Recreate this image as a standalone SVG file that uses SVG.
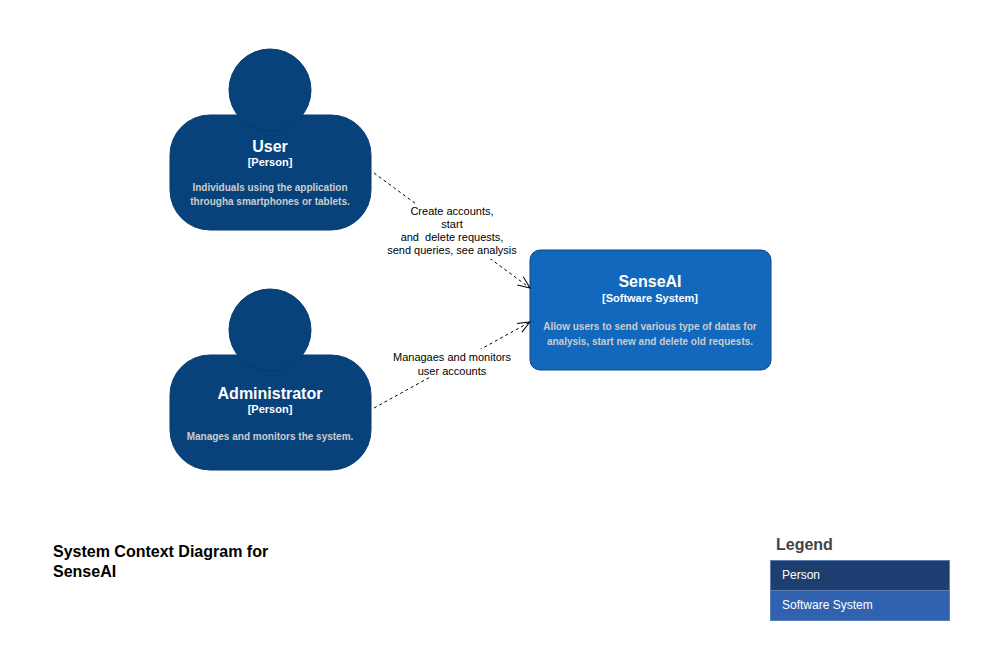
<svg xmlns="http://www.w3.org/2000/svg" width="1000" height="671" viewBox="0 0 1000 671">
<style>
.person{fill:#08427b;stroke:#073b6f;stroke-width:1}
.sys{fill:#1168bd;stroke:#0b4884;stroke-width:1}
.name{font-family:"Liberation Sans",Arial,sans-serif;font-weight:bold;font-size:16px;fill:#fff;text-anchor:middle}
.type{font-family:"Liberation Sans",Arial,sans-serif;font-weight:bold;font-size:11px;fill:#fff;text-anchor:middle}
.desc{font-family:"Liberation Sans",Arial,sans-serif;font-weight:bold;font-size:10px;fill:#cccccc;text-anchor:middle}
.edge{fill:none;stroke:#000;stroke-width:1;stroke-dasharray:3 3}
.lbl{font-family:"Liberation Sans",Arial,sans-serif;font-size:11px;fill:#000;text-anchor:middle}
.title{font-family:"Liberation Sans",Arial,sans-serif;font-weight:bold;font-size:16px;fill:#000}
.leg{font-family:"Liberation Sans",Arial,sans-serif;font-size:12px;fill:#fff}
</style>
<defs>
<marker id="arr" markerWidth="14" markerHeight="12" refX="13" refY="6" orient="auto" markerUnits="userSpaceOnUse">
<path d="M1,1 L13,6 L1,11" fill="none" stroke="#000" stroke-width="1"/>
</marker>
</defs>
<rect width="1000" height="671" fill="#fff"/>
<g id="user">
<rect class="person" x="170" y="115" width="201" height="115" rx="40" ry="40"/>
<circle class="person" cx="270" cy="90" r="41"/>
<text class="name" x="270" y="152">User</text>
<text class="type" x="270" y="166">[Person]</text>
<text class="desc" x="270" y="191">Individuals using the application</text>
<text class="desc" x="270" y="205">througha smartphones or tablets.</text>
</g>
<g id="administrator">
<rect class="person" x="170" y="355" width="201" height="115" rx="40" ry="40"/>
<circle class="person" cx="270" cy="330" r="41"/>
<text class="name" x="270" y="399">Administrator</text>
<text class="type" x="270" y="413">[Person]</text>
<text class="desc" x="270" y="440">Manages and monitors the system.</text>
</g>
<g id="senseai">
<rect class="sys" x="530" y="250" width="241" height="120" rx="10" ry="10"/>
<text class="name" x="650" y="287">SenseAI</text>
<text class="type" x="650" y="302">[Software System]</text>
<text class="desc" x="650" y="330">Allow users to send various type of datas for</text>
<text class="desc" x="650" y="345">analysis, start new and delete old requests.</text>
</g>
<g id="connectors">
<path class="edge" d="M374,173 L530,288" marker-end="url(#arr)"/>
<path class="edge" d="M374,408 L530,322" marker-end="url(#arr)"/>
<rect x="386" y="204" width="132" height="55" fill="#fff"/>
<text class="lbl" x="452" y="215">Create accounts,</text>
<text class="lbl" x="452" y="228">start</text>
<text class="lbl" x="452" y="241" xml:space="preserve">and  delete requests,</text>
<text class="lbl" x="452" y="254">send queries, see analysis</text>
<rect x="392" y="349" width="120" height="28" fill="#fff"/>
<text class="lbl" x="452" y="361">Managaes and monitors</text>
<text class="lbl" x="452" y="375">user accounts</text>
</g>
<g id="title">
<text class="title" x="53" y="557">System Context Diagram for</text>
<text class="title" x="53" y="577">SenseAI</text>
</g>
<g id="legend">
<text x="776" y="550" font-family="Liberation Sans,Arial,sans-serif" font-weight="bold" font-size="16" fill="#444">Legend</text>
<rect x="770.5" y="560.5" width="179" height="30" fill="#1e3e70" stroke="#5a7fb5" stroke-width="1"/>
<rect x="770.5" y="590.5" width="179" height="30" fill="#3162af" stroke="#5a7fb5" stroke-width="1"/>
<text class="leg" x="782" y="579">Person</text>
<text class="leg" x="782" y="609">Software System</text>
</g>
</svg>
